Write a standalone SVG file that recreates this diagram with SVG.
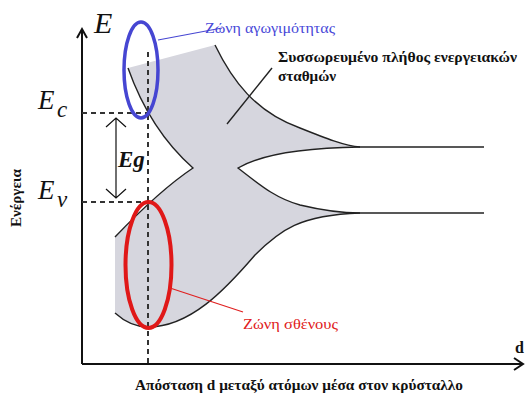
<svg xmlns="http://www.w3.org/2000/svg" width="525" height="394" viewBox="0 0 525 394">
<style>
.ax{stroke:#111;stroke-width:2;fill:none}
.ln{stroke:#222;stroke-width:1.4;fill:none}
.dash{stroke:#333;stroke-width:2;stroke-dasharray:5 4;fill:none}
.it{font-family:"Liberation Serif","DejaVu Serif",serif;font-style:italic;fill:#111}
.bd{font-family:"Liberation Serif","DejaVu Serif",serif;font-weight:bold;fill:#111}
.rg{font-family:"Liberation Serif","DejaVu Serif",serif}
</style>
<rect width="525" height="394" fill="#fff"/>
<g id="band">
<path d="M128,68 L215,45 C232,80 255,112 300,128 C325,138 345,146 360,147 C290,148 255,158 238,168 C260,185 275,198 300,205 C325,211 345,213 360,213 C300,215 280,230 255,255 C225,290 190,327 148,327 C135,327 125,322 115,313 L115,237 Q160,190 193,168 Q150,130 128,68 Z" fill="#d6d6de"/>
<path class="ln" d="M128,68 Q150,130 193,168 Q160,190 115,237"/>
<path class="ln" d="M215,45 C232,80 255,112 300,128 C325,138 345,146 360,147 L484,147"/>
<path class="ln" d="M360,147 C290,148 255,158 238,168 C260,185 275,198 300,205 C325,211 345,213 360,213 L484,213"/>
<path class="ln" d="M115,313 C125,322 135,327 148,327 C190,327 225,290 255,255 C280,230 300,215 360,213"/>
</g>
<g id="axes">
<path class="ax" d="M82,364 L82,30 M77,38 L82,29 L87,38"/>
<path class="ax" d="M82,364 L522,364 M514,358 L523,364 L514,370"/>
<path class="dash" d="M82,113 L148,113 M82,202 L148,202"/>
<path class="dash" d="M148,52 L148,364" stroke-width="2.4"/>
<text class="it" x="94" y="33" font-size="30">E</text>
<text class="it" x="38" y="109" font-size="27">E</text>
<text class="it" x="57" y="117" font-size="23">c</text>
<text class="it" x="38" y="199" font-size="27">E</text>
<text class="it" x="57" y="207" font-size="23">v</text>
<text class="bd" x="515" y="353" font-size="16">d</text>
<text class="bd" x="135" y="390" font-size="15" textLength="328" lengthAdjust="spacingAndGlyphs">Απόσταση d μεταξύ ατόμων μέσα στον κρύσταλλο</text>
<text class="bd" transform="translate(21,198) rotate(-90)" text-anchor="middle" font-size="14" textLength="58" lengthAdjust="spacingAndGlyphs">Ενέργεια</text>
</g>
<g id="gap">
<path d="M116,118 L116,198 M106,127 L116,118 L126,127 M106,189 L116,198 L126,189" stroke="#111" stroke-width="1.2" fill="none"/>
<text class="bd" x="118" y="167" font-size="23" font-style="italic">Eg</text>
</g>
<g id="conduction">
<ellipse cx="141" cy="70" rx="17" ry="48" fill="none" stroke="#4646d2" stroke-width="3.5"/>
<text class="rg" x="205" y="33" font-size="15" fill="#4848d8" textLength="130" lengthAdjust="spacingAndGlyphs">Ζώνη αγωγιμότητας</text>
</g>
<g id="valence">
<ellipse cx="148.5" cy="265" rx="23" ry="63" fill="none" stroke="#e01818" stroke-width="4"/>
<text class="rg" x="243" y="329" font-size="15" fill="#e02020" textLength="95" lengthAdjust="spacingAndGlyphs">Ζώνη σθένους</text>
</g>
<g id="levels">
<text class="bd" x="278" y="62" font-size="15" textLength="239" lengthAdjust="spacingAndGlyphs">Συσσωρευμένο πλήθος ενεργειακών</text>
<text class="bd" x="278" y="81" font-size="15" textLength="58" lengthAdjust="spacingAndGlyphs">σταθμών</text>
</g>
<g id="connectors">
<path d="M158,40 L222,28" stroke="#4646d2" stroke-width="1.2" fill="none"/>
<path d="M170,288 L243,312" stroke="#e02020" stroke-width="1.2" fill="none"/>
<path d="M227,124 L272,68" stroke="#222" stroke-width="1.4" fill="none"/>
</g>
</svg>
